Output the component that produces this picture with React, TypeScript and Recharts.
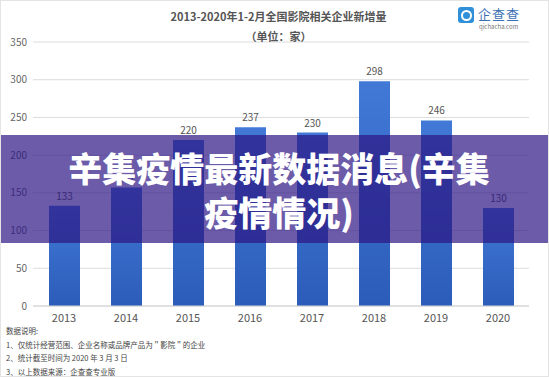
import React from 'react';
import { BarChart, Bar, XAxis, YAxis, CartesianGrid, LabelList } from 'recharts';

const years = ['2013', '2014', '2015', '2016', '2017', '2018', '2019', '2020'];
const counts = [133, 157, 220, 237, 230, 298, 246, 130];
const yTicks = [0, 50, 100, 150, 200, 250, 300, 350];
const titleText = '2013-2020年1-2月全国影院相关企业新增量';
const unitText = '（单位：家）';
const overlayLines = ['辛集疫情最新数据消息(辛集', '疫情情况)'];
const notes = [
  '数据说明:',
  '1、仅统计经营范围、企业名称或品牌产品为＂影院＂的企业',
  '2、统计截至时间为 2020 年 3 月 3 日',
  '3、以上数据来源：企查查专业版',
];

const data = years.map((y, i) => ({ year: y, value: counts[i] }));
const FONT = '"Noto Sans CJK SC", "Noto Sans", sans-serif';

export default function App() {
  return (
    <div style={{ position: 'absolute', left: 0, top: 0, width: 549, height: 377, background: '#fff', overflow: 'hidden', fontFamily: FONT, boxSizing: 'border-box', border: '1px solid #e4e4e4' }}>
      <div style={{ position: 'absolute', left: -1, top: -1 }}>
        <BarChart width={549} height={377} data={data} margin={{ top: 42, right: 20, bottom: 51, left: 0 }}>
          <defs>
            <linearGradient id="barGrad" x1="0" y1="0" x2="0" y2="1">
              <stop offset="0%" stopColor="#4279d6" />
              <stop offset="100%" stopColor="#2c5cba" />
            </linearGradient>
          </defs>
          <CartesianGrid vertical={false} stroke="#dcdcdc" />
          <XAxis dataKey="year" tickLine={false} axisLine={{ stroke: '#d4d4d4' }} tick={{ fontSize: 11, fill: '#555', fontFamily: FONT }} height={20} />
          <YAxis domain={[0, 350]} ticks={yTicks} tickLine={false} axisLine={false} width={33} tickMargin={0} tick={{ fontSize: 10, fill: '#666', fontFamily: FONT }} />
          <Bar dataKey="value" fill="url(#barGrad)" barSize={31} isAnimationActive={false}>
            <LabelList dataKey="value" position="top" offset={6} style={{ fontSize: 10, fill: '#555', fontFamily: FONT }} />
          </Bar>
        </BarChart>
      </div>
      <div style={{ position: 'absolute', left: 0, width: 549, top: 7, textAlign: 'center', fontSize: 11, fontWeight: 700, color: '#555', paddingLeft: 6, boxSizing: 'border-box' }}>{titleText}</div>
      <div style={{ position: 'absolute', left: 0, width: 549, top: 27, textAlign: 'center', fontSize: 11, fontWeight: 700, color: '#555', paddingLeft: 6, boxSizing: 'border-box' }}>{unitText}</div>
      <div style={{ position: 'absolute', left: 457, top: 6, width: 16, height: 16, borderRadius: 3, background: '#2f8fd9' }}>
        <div style={{ position: 'absolute', left: 3, top: 3, width: 7, height: 7, border: '2px solid #fff', borderRadius: '50%' }} />
      </div>
      <div style={{ position: 'absolute', left: 477, top: 3, fontSize: 13, color: '#3d6fb4', letterSpacing: 1 }}>企查查</div>
      <div style={{ position: 'absolute', left: 478, top: 21, fontSize: 6, color: '#777' }}>qichacha.com</div>
      <div style={{ position: 'absolute', left: 0, top: 134, width: 549, height: 108, background: 'rgba(44,22,131,0.7)' }}>
        {overlayLines.map((t, i) => (
          <div key={i} style={{ position: 'absolute', left: 278, transform: 'translateX(-50%)', top: 13 + i * 44, fontSize: 34, lineHeight: '40px', fontWeight: 900, color: '#fff', whiteSpace: 'nowrap' }}>{t}</div>
        ))}
      </div>
      {notes.map((t, i) => (
        <div key={i} style={{ position: 'absolute', left: 5, top: 325 + i * 13.5, fontSize: 7.5, lineHeight: '10px', color: '#444', whiteSpace: 'nowrap' }}>{t}</div>
      ))}
    </div>
  );
}
